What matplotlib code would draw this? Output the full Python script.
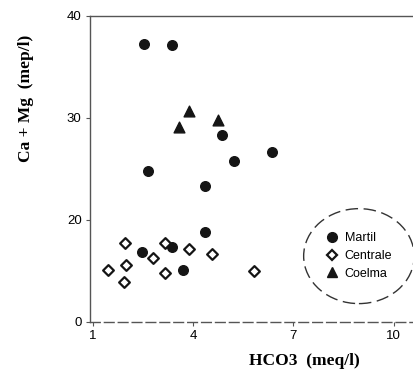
import matplotlib
matplotlib.use("Agg")
import matplotlib.pyplot as plt
from matplotlib.patches import Ellipse
from matplotlib.lines import Line2D

# data (HCO3 meq/l, Ca+Mg)
martil_x = [2.53, 3.38, 2.66, 4.37, 4.88, 5.24, 6.36, 4.37, 2.47, 3.38, 3.71]
martil_y = [37.2, 37.1, 24.8, 23.35, 28.35, 25.8, 26.65, 18.8, 16.9, 17.3, 15.1]

centrale_x = [1.45, 1.97, 1.99, 1.95, 2.81, 3.16, 3.16, 3.89, 4.56, 5.83]
centrale_y = [15.1, 17.7, 15.6, 13.95, 16.3, 17.7, 14.8, 17.1, 16.65, 15.0]

coelma_x = [3.58, 3.89, 4.74]
coelma_y = [29.1, 30.7, 29.8]

xticks = [1, 4, 7, 10]
yticks = [10, 20, 30, 40]
ytick_labels = ["0", "20", "30", "40"]

fig = plt.figure(figsize=(4.14, 3.81), dpi=100)
ax = fig.add_axes([0.2174, 0.1549, 0.797, 0.804])

ax.scatter(martil_x, martil_y, marker="o", s=48, color="#151515", zorder=3)
ax.scatter(centrale_x, centrale_y, marker="D", s=30, facecolor="white",
           edgecolor="#151515", linewidths=1.6, zorder=3)
ax.scatter(coelma_x, coelma_y, marker="^", s=60, color="#151515", zorder=3)

ax.set_xlim(0.92, 10.79)
ax.set_ylim(10, 40)
ax.set_xticks(xticks)
ax.set_yticks(yticks)
ax.set_yticklabels(ytick_labels)
ax.tick_params(labelsize=9.5, length=3, width=0.8, color="#555555", pad=3)
for lab in ax.get_xticklabels() + ax.get_yticklabels():
    lab.set_family("Liberation Sans")

for side in ["left", "top"]:
    ax.spines[side].set_color("#555555")
    ax.spines[side].set_linewidth(1.0)
ax.spines["right"].set_visible(False)
ax.spines["bottom"].set_color("#555555")
ax.spines["bottom"].set_linewidth(1.0)
ax.spines["bottom"].set_linestyle((0, (7, 3)))

ax.set_xlabel("HCO3  (meq/l)", family="Liberation Serif", fontweight="bold",
              fontsize=12.5)
ax.xaxis.set_label_coords(0.65, -0.1)
ax.set_ylabel("Ca + Mg  (mep/l)", family="Liberation Serif", fontweight="bold",
              fontsize=12.5)
ax.yaxis.set_label_coords(-0.17, 0.73)

# legend inside a dashed ellipse
ell = Ellipse((0.815, 0.215), 0.335, 0.31, transform=ax.transAxes,
              fill=False, edgecolor="#333333", linewidth=1.0,
              linestyle=(0, (9, 4)), zorder=2)
ax.add_patch(ell)
handles = [
    Line2D([], [], marker="o", linestyle="", markersize=7, color="#151515"),
    Line2D([], [], marker="D", linestyle="", markersize=5.5, markerfacecolor="white",
           markeredgecolor="#151515", markeredgewidth=1.6),
    Line2D([], [], marker="^", linestyle="", markersize=7.5, color="#151515"),
]
ax.legend(handles, ["Martil", "Centrale", "Coelma"], loc="center",
          bbox_to_anchor=(0.815, 0.215), frameon=False, handletextpad=0.5,
          handlelength=1.0, labelspacing=0.45, borderpad=0,
          prop={"family": "Liberation Sans", "size": 9})

fig.savefig("out.png", dpi=100)
